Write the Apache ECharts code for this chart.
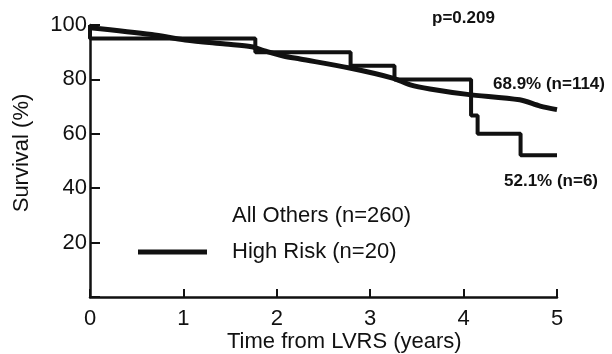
<!DOCTYPE html>
<html>
<head>
<meta charset="utf-8">
<script src="https://cdn.jsdelivr.net/npm/echarts@6/dist/echarts.min.js"></script>
<style>
  html, body { margin: 0; padding: 0; background: #fff; }
  #main { width: 612px; height: 354px; }
</style>
</head>
<body>
<div id="main"></div>
<script>
// years from LVRS
var othersTime = [0, 0.66, 1.02, 1.45, 1.73, 1.87, 2.07, 2.25, 2.78, 3.24, 3.43, 3.64, 4.04, 4.6, 4.82, 5.0];
var othersSurv = [99, 96.5, 94.5, 93, 92, 90.5, 88.6, 87.5, 84.2, 80.5, 78, 76.5, 74.5, 72.5, 70.2, 68.9];
// high risk: step curve (survival drops at each time)
var riskTime = [0, 0, 1.77, 2.79, 3.26, 4.08, 4.15, 4.61, 5.0];
var riskSurv = [100, 95, 90, 85, 80, 66.7, 60, 52.1, 52.1];
var xTicks = [0, 1, 2, 3, 4, 5];
var yTicks = [20, 40, 60, 80, 100];

function pairs(xs, ys) {
    return xs.map(function (x, i) { return [x, ys[i]]; });
}

var font = 'Liberation Sans, Arial, sans-serif';
var chart = echarts.init(document.getElementById('main'));
chart.setOption({
    animation: false,
    grid: { left: 90, right: 55, top: 25, bottom: 57 },
    legend: {
        orient: 'vertical',
        left: 133,
        top: 200,
        itemWidth: 69,
        itemHeight: 5,
        itemGap: 14,
        selectedMode: false,
        textStyle: { fontFamily: font, fontSize: 22, color: '#111', padding: [0, 0, 0, 20] },
        data: [
            { name: 'All Others (n=260)', icon: 'rect', itemStyle: { color: 'rgba(0,0,0,0)' } },
            { name: 'High Risk (n=20)', icon: 'rect', itemStyle: { color: '#111' } }
        ]
    },
    xAxis: {
        type: 'value',
        min: 0,
        max: 5,
        interval: 1,
        splitLine: { show: false },
        axisLine: { lineStyle: { color: '#111', width: 2.5 } },
        axisTick: { inside: true, length: 8, lineStyle: { color: '#111', width: 2 } },
        axisLabel: { fontFamily: font, fontSize: 22, color: '#111', margin: 11,
            formatter: function (v) { return xTicks.indexOf(v) >= 0 ? String(v) : ''; } }
    },
    yAxis: {
        type: 'value',
        min: 0,
        max: 100,
        interval: 20,
        splitLine: { show: false },
        axisLine: { show: true, lineStyle: { color: '#111', width: 2.5 } },
        axisTick: { show: true, inside: true, length: 10, lineStyle: { color: '#111', width: 2 } },
        axisLabel: { fontFamily: font, fontSize: 22, color: '#111', margin: 3,
            formatter: function (v) { return yTicks.indexOf(v) >= 0 ? String(v) : ''; } }
    },
    series: [
        {
            name: 'All Others (n=260)',
            type: 'line',
            showSymbol: false,
            smooth: 0.3,
            lineStyle: { color: '#111', width: 5 },
            itemStyle: { color: '#111' },
            data: pairs(othersTime, othersSurv)
        },
        {
            name: 'High Risk (n=20)',
            type: 'line',
            step: 'end',
            showSymbol: false,
            lineStyle: { color: '#111', width: 4 },
            itemStyle: { color: '#111' },
            data: pairs(riskTime, riskSurv)
        }
    ],
    graphic: [
        { type: 'text', left: 227, top: 331, style: { text: 'Time from LVRS (years)', fontFamily: font, fontSize: 22, fill: '#111' } },
        { type: 'text', x: 22, y: 153, rotation: Math.PI / 2, style: { text: 'Survival (%)', fontFamily: font, fontSize: 22, fill: '#111', align: 'center', verticalAlign: 'middle' } },
        { type: 'text', left: 432, top: 10, style: { text: 'p=0.209', fontFamily: font, fontSize: 17, fontWeight: 'bold', fill: '#111' } },
        { type: 'text', left: 493, top: 76, style: { text: '68.9% (n=114)', fontFamily: font, fontSize: 17, fontWeight: 'bold', fill: '#111' } },
        { type: 'text', left: 504, top: 173, style: { text: '52.1% (n=6)', fontFamily: font, fontSize: 17, fontWeight: 'bold', fill: '#111' } }
    ]
});
</script>
</body>
</html>
